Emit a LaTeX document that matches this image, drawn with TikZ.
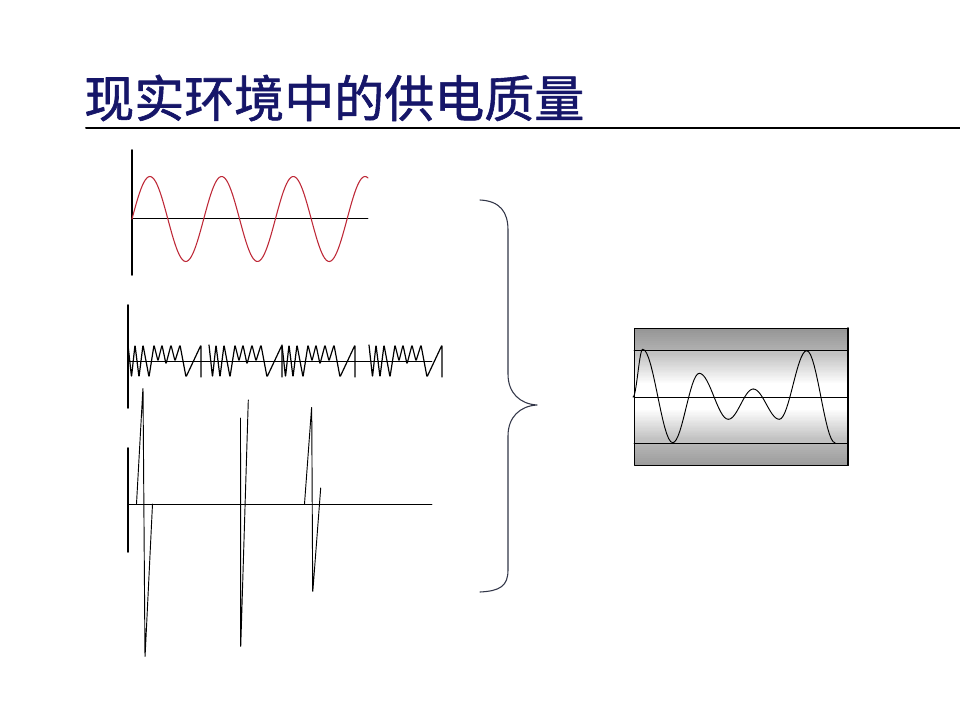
\documentclass[tikz,border=0pt]{standalone}
\usepackage{fontspec}
\newfontfamily\titrefont[FakeBold=1.2]{Noto Sans CJK SC}
\definecolor{bleutitre}{RGB}{22,22,105}
\definecolor{rougesinus}{RGB}{190,40,55}
\definecolor{gristrait}{RGB}{50,54,72}

\newcommand{\salve}[1]{% une salve d'oscillations
  \draw[onde,line width=0.9pt,rounded corners=0.8pt] (#1+0,345) -- (#1+3.5,377) -- (#1+7,345) -- (#1+11,377)
    -- (#1+15,345) -- (#1+21,377) -- (#1+26,345) -- (#1+30,361) -- (#1+34,345) -- (#1+38,364)
    -- (#1+43,345) -- (#1+47,361) -- (#1+52,345) -- (#1+58,377) -- (#1+73,345) -- (#1+73,377);}
\newcommand{\demi}[4]{% demi-onde entre deux extremums
  \draw[onde] plot[domain=0:1,samples=16] ({#1+(#3-#1)*\x},{#2+(#4-#2)*(1-cos(180*\x))/2});}

\begin{document}
\begin{tikzpicture}[line cap=round,line join=round,x=0.75pt,y=-0.75pt,
    axe/.style={black,line width=1.2pt},
    ligne/.style={black,line width=0.7pt},
    onde/.style={black,line width=0.7pt}]
  \useasboundingbox[fill=white] (0,0) rectangle (960,720);
  % Titre
  \node[anchor=west,inner sep=0pt,text=bleutitre,font=\titrefont\fontsize{37.5}{40}\selectfont] (titre) at (84,98) {现实环境中的供电质量};
  \draw[line width=1.5pt] (86,128) -- (960,128);
  % Sinus
  \draw[axe] (132,150) -- (132,275);
  \draw[ligne] (132,218) -- (368,218);
  \draw[rougesinus,line width=0.8pt] plot[domain=132:368,samples=160] (\x,{219-42.5*sin((\x-132)/71.7*360)});
  % Harmoniques
  \draw[axe] (128,305) -- (128,408);
  \draw[ligne] (128,361) -- (432,361);
  \salve{128} \salve{209} \salve{282} \salve{369}
  % Pointes
  \draw[axe] (128,448) -- (128,552);
  \draw[ligne] (128,504) -- (432,504);
  \draw[onde,rounded corners=2pt] (136.5,504) -- (143,387) -- (145,658) -- (152.5,504);
  \draw[onde,rounded corners=2pt] (240.5,418) -- (240.7,648) -- (248.3,400);
  \draw[onde,rounded corners=2pt] (304.5,504) -- (311.7,406) -- (312.7,593) -- (320.7,488);
  % Accolade
  \draw[gristrait,line width=0.8pt] (480,200) .. controls (500,201) and (508,212) .. (508,230) -- (508,374)
    .. controls (508,393) and (520,404) .. (537,405) .. controls (520,406) and (508,417) .. (508,436)
    -- (508,570) .. controls (508,586) and (500,591) .. (480,592);
  % Bandes (degrades par tranches)
  \foreach \i in {0,...,21}
    \fill[black!\the\numexpr 42-\i/2\relax] (634,328+\i) rectangle (848,329+\i);
  \foreach \i in {0,...,92}{
    \pgfmathtruncatemacro\q{min(24,max(0,(abs(\i-46)-12)*0.8))}
    \fill[black!\q] (634,350+\i) rectangle (848,351+\i);}
  \foreach \i in {0,...,21}
    \fill[black!\the\numexpr 28+\i/2\relax] (634,443+\i) rectangle (848,444+\i);
  \draw[ligne] (634,328) rectangle (848,465);
  \draw[black,line width=1.2pt] (848,328) -- (848,465);
  \draw[ligne] (634,350) -- (848,350);
  \draw[ligne] (634,397) -- (848,397);
  \draw[ligne] (634,443) -- (848,443);
  % Onde deformee
  \demi{633}{397}{642.7}{349.3}
  \demi{642.7}{349.3}{672.7}{442.7}
  \demi{672.7}{442.7}{699.3}{373.3}
  \demi{699.3}{373.3}{728.3}{419.3}
  \demi{728.3}{419.3}{753.3}{389}
  \demi{753.3}{389}{779.3}{419.3}
  \demi{779.3}{419.3}{806.7}{350.7}
  \demi{806.7}{350.7}{835}{442.7}
\end{tikzpicture}
\end{document}
